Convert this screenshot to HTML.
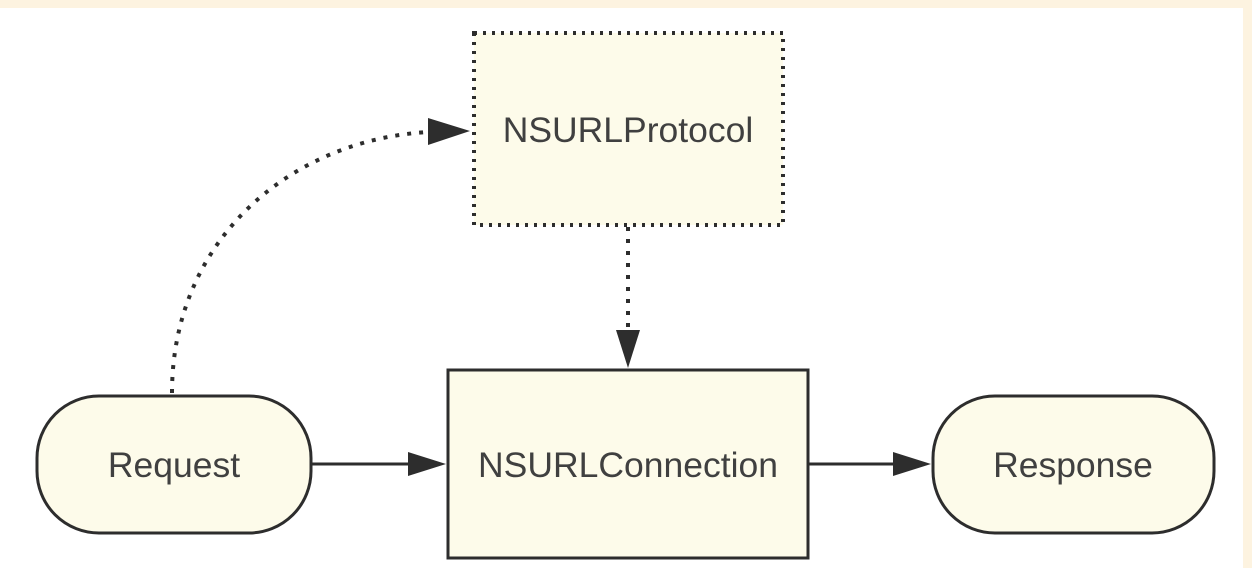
<!DOCTYPE html>
<html><head><style>
html,body{margin:0;padding:0;width:1252px;height:568px;overflow:hidden;background:#fdf3e0;}
svg{position:absolute;left:0;top:0;}
</style></head><body>
<svg width="1252" height="568" xmlns="http://www.w3.org/2000/svg">
<rect x="0" y="8" width="1243" height="560" fill="#ffffff"/>
<g font-family="Liberation Sans, sans-serif" font-size="35.5" fill="#404040" text-anchor="middle">
<rect x="474" y="33" width="309" height="192" fill="#fdfbea" stroke="#2d2d2d" stroke-width="4" stroke-dasharray="3 6"/>
<text x="628" y="142">NSURLProtocol</text>
<rect x="37" y="396" width="274" height="137" rx="62" fill="#fdfbea" stroke="#2d2d2d" stroke-width="3"/>
<text x="174" y="477">Request</text>
<rect x="448" y="370" width="360" height="188" fill="#fdfbea" stroke="#2d2d2d" stroke-width="3"/>
<text x="628" y="477">NSURLConnection</text>
<rect x="933" y="396" width="281" height="137" rx="62" fill="#fdfbea" stroke="#2d2d2d" stroke-width="3"/>
<text x="1073" y="477">Response</text>
</g>
<g stroke="#2d2d2d" fill="none" stroke-width="3">
<line x1="311" y1="464" x2="410" y2="464"/>
<line x1="808" y1="464" x2="895" y2="464"/>
<line x1="628" y1="227" x2="628" y2="330" stroke-width="4" stroke-dasharray="4 8"/>
<path d="M172,393 C172,240 290,140 428,132" stroke-width="4" stroke-dasharray="4 8"/>
</g>
<g fill="#2d2d2d">
<polygon points="408,452 446,464 408,476"/>
<polygon points="893,452 931,464 893,476"/>
<polygon points="616,330 628,368 640,330"/>
<polygon points="428,118 470,131 428,145"/>
</g>
</svg>
</body></html>
